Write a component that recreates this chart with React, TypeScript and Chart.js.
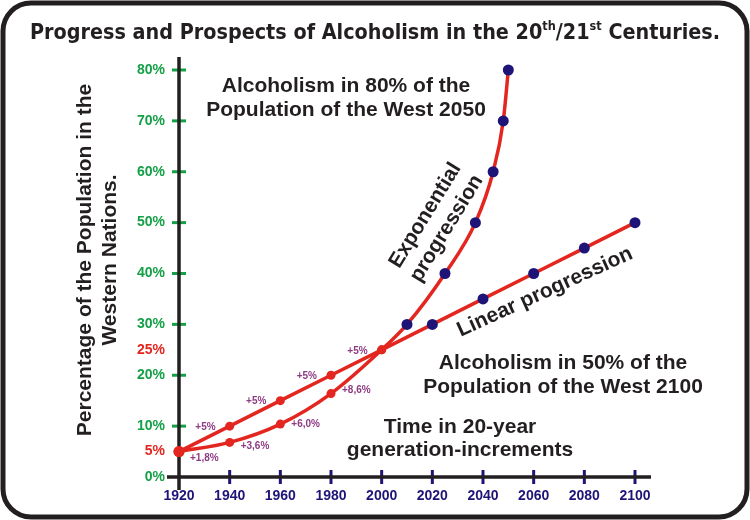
import { useEffect, useRef } from "react";
import { Chart, registerables } from "chart.js";

Chart.register(...registerables);

// ---- data ----
const linearYears = [1920, 1940, 1960, 1980, 2000, 2020, 2040, 2060, 2080, 2100];
const linearValues = [5, 10, 15, 20, 25, 30, 35, 40, 45, 50];
const expYears = [1920, 1940, 1960, 1980, 2000, 2010, 2025, 2037, 2044, 2048, 2050];
const expValues = [5, 6.8, 10.4, 16.4, 25, 30, 40, 50, 60, 70, 80];
const linearIncrements = ["+5%", "+5%", "+5%", "+5%"];
const expIncrements = ["+1,8%", "+3,6%", "+6,0%", "+8,6%"];
const yTickValues = [0, 5, 10, 20, 25, 30, 40, 50, 60, 70, 80];
const highlightTicks = [5, 25];
const xMin = 1920;
const xMax = 2100;
const xStep = 20;

const titleParts = [
  { t: "Progress and Prospects of Alcoholism in the 20", sup: false },
  { t: "th", sup: true },
  { t: "/21", sup: false },
  { t: "st", sup: true },
  { t: " Centuries.", sup: false },
];
const yTitleLines = ["Percentage of the Population in the", "Western Nations."];
const note2050 = ["Alcoholism in 80% of the", "Population of the West 2050"];
const note2100 = ["Alcoholism in 50% of the", "Population of the West 2100"];
const noteTime = ["Time in 20-year", "generation-increments"];
const noteExp = ["Exponential", "progression"];
const noteLin = ["Linear progression"];

// ---- styles ----
const FONT = '"Liberation Sans", Arial, Helvetica, sans-serif';
const RED = "#e3261f";
const GREEN = "#14a046";
const NAVY = "#1e1478";
const PURPLE = "#8e3b83";
const INK = "#231f20";

function drawLines(ctx: CanvasRenderingContext2D, lines: string[], cx: number, cy: number, angleDeg: number, lh: number, size: number) {
  ctx.save();
  ctx.translate(cx, cy);
  ctx.rotate((angleDeg * Math.PI) / 180);
  ctx.font = `bold ${size}px ${FONT}`;
  ctx.fillStyle = INK;
  ctx.textAlign = "center";
  ctx.textBaseline = "middle";
  const n = lines.length;
  lines.forEach((l, i) => {
    ctx.fillText(l, 0, (i - (n - 1) / 2) * lh);
  });
  ctx.restore();
}

const decor = {
  id: "decor",
  beforeDraw(chart: any) {
    const ctx: CanvasRenderingContext2D = chart.ctx;
    ctx.save();
    ctx.fillStyle = "#ffffff";
    ctx.fillRect(0, 0, chart.width, chart.height);
    ctx.strokeStyle = INK;
    ctx.lineWidth = 5;
    ctx.beginPath();
    (ctx as any).roundRect(3, 3, chart.width - 6, chart.height - 6, 28);
    ctx.stroke();
    ctx.restore();
  },
  beforeDatasetsDraw(chart: any) {
    const ctx: CanvasRenderingContext2D = chart.ctx;
    const xs = chart.scales.x;
    const ys = chart.scales.y;
    const x0 = xs.getPixelForValue(xMin);
    const y0 = ys.getPixelForValue(0);
    ctx.save();
    // tick marks
    ctx.lineWidth = 3;
    ctx.strokeStyle = GREEN;
    yTickValues.forEach((v) => {
      if (v === 0 || highlightTicks.includes(v)) return;
      const y = ys.getPixelForValue(v);
      ctx.beginPath();
      ctx.moveTo(x0 - 7, y);
      ctx.lineTo(x0 + 7, y);
      ctx.stroke();
    });
    ctx.strokeStyle = NAVY;
    for (let yr = xMin + xStep; yr <= xMax; yr += xStep) {
      const x = xs.getPixelForValue(yr);
      ctx.beginPath();
      ctx.moveTo(x, y0 - 7);
      ctx.lineTo(x, y0 + 7);
      ctx.stroke();
    }
    // axis lines
    ctx.strokeStyle = INK;
    ctx.lineWidth = 3.5;
    ctx.beginPath();
    ctx.moveTo(x0, ys.getPixelForValue(80) - 13);
    ctx.lineTo(x0, y0 + 13);
    ctx.moveTo(x0 - 12, y0);
    ctx.lineTo(xs.getPixelForValue(xMax) + 16, y0);
    ctx.stroke();
    ctx.restore();
  },
  afterDatasetsDraw(chart: any) {
    const ctx: CanvasRenderingContext2D = chart.ctx;
    ctx.save();
    // increment labels
    ctx.font = `bold 10px ${FONT}`;
    ctx.fillStyle = PURPLE;
    ctx.textBaseline = "middle";
    const linPts = chart.getDatasetMeta(0).data;
    ctx.textAlign = "right";
    linearIncrements.forEach((t, i) => {
      const p = linPts[i + 1];
      ctx.fillText(t, p.x - 14, p.y + 1);
    });
    const expPts = chart.getDatasetMeta(1).data;
    const expOff = [7, 4, 0, -3];
    ctx.textAlign = "left";
    expIncrements.forEach((t, i) => {
      const p = expPts[i];
      ctx.fillText(t, p.x + 11, p.y + expOff[i]);
    });
    ctx.restore();

    // notes
    drawLines(ctx, note2050, 346, 98, 0, 24, 21);
    drawLines(ctx, note2100, 563, 375, 0, 24, 21);
    drawLines(ctx, noteTime, 460, 439, 0, 23, 21);
    drawLines(ctx, noteExp, 436, 222, -58.5, 25, 21);
    drawLines(ctx, noteLin, 545, 292, -24.5, 24, 21);
    drawLines(ctx, yTitleLines, 98, 260, -90, 25, 21);

    // title with superscripts
    ctx.save();
    ctx.fillStyle = INK;
    ctx.textBaseline = "alphabetic";
    ctx.textAlign = "left";
    const big = `bold 22px "DejaVu Sans", ${FONT}`;
    const small = `bold 13px "DejaVu Sans", ${FONT}`;
    let total = 0;
    titleParts.forEach((p) => {
      ctx.font = p.sup ? small : big;
      total += ctx.measureText(p.t).width;
    });
    const sx = 690 / total;
    ctx.translate(30, 39);
    ctx.scale(sx, 1);
    let cx = 0;
    titleParts.forEach((p) => {
      ctx.font = p.sup ? small : big;
      ctx.fillText(p.t, cx, p.sup ? -9 : 0);
      cx += ctx.measureText(p.t).width;
    });
    ctx.restore();
  },
};

export default function App() {
  const ref = useRef<HTMLCanvasElement | null>(null);
  useEffect(() => {
    if (!ref.current) return;
    const chart = new Chart(ref.current, {
      type: "line",
      data: {
        datasets: [
          {
            data: linearYears.map((x, i) => ({ x, y: linearValues[i] })),
            borderColor: RED,
            borderWidth: 3.5,
            tension: 0,
            pointRadius: linearYears.map((y) => (y === 1920 ? 5.5 : y <= 2000 ? 4.5 : 5.5)),
            pointBackgroundColor: linearYears.map((y) => (y <= 2000 ? RED : NAVY)),
            pointBorderWidth: 0,
            clip: false,
          } as any,
          {
            data: expYears.map((x, i) => ({ x, y: expValues[i] })),
            borderColor: RED,
            borderWidth: 3.5,
            cubicInterpolationMode: "monotone",
            pointRadius: expYears.map((y) => (y === 1920 ? 5.5 : y <= 2000 ? 4.5 : 5.5)),
            pointBackgroundColor: expYears.map((y) => (y <= 2000 ? RED : NAVY)),
            pointBorderWidth: 0,
            clip: false,
          } as any,
        ],
      },
      options: {
        responsive: false,
        animation: false,
        events: [],
        layout: { padding: { top: 70, right: 115, bottom: 0, left: 0 } },
        plugins: {
          legend: { display: false },
          tooltip: { enabled: false },
          title: { display: false },
        },
        scales: {
          x: {
            type: "linear",
            min: xMin,
            max: xMax,
            grid: { display: false, drawTicks: false },
            border: { display: false },
            ticks: {
              stepSize: xStep,
              padding: 11,
              color: NAVY,
              autoSkip: false,
              maxRotation: 0,
              font: { family: FONT, size: 14, weight: "bold" },
              callback: (v: any) => String(v),
            },
            afterFit: (s: any) => {
              s.height = 43;
            },
          },
          y: {
            type: "linear",
            min: 0,
            max: 80,
            grid: { display: false, drawTicks: false },
            border: { display: false },
            afterBuildTicks: (s: any) => {
              s.ticks = yTickValues.map((v) => ({ value: v }));
            },
            ticks: {
              padding: 14,
              autoSkip: false,
              color: (c: any) => (highlightTicks.includes(c.tick.value) ? RED : GREEN),
              font: { family: FONT, size: 14, weight: "bold" },
              callback: (v: any) => `${v}%`,
            },
            afterFit: (s: any) => {
              s.width = 179;
            },
          },
        },
      } as any,
      plugins: [decor],
    });
    return () => chart.destroy();
  }, []);
  return (
    <div style={{ position: "absolute", left: 0, top: 0, width: 750, height: 520 }}>
      <canvas ref={ref} width={750} height={520} />
    </div>
  );
}
